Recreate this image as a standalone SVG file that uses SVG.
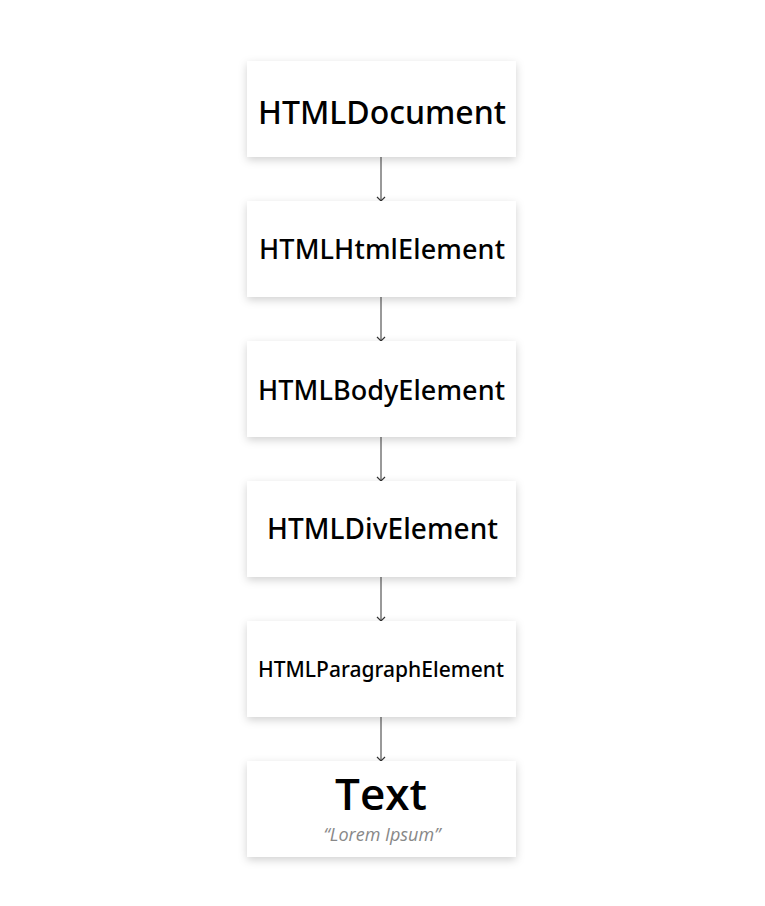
<svg xmlns="http://www.w3.org/2000/svg" width="765" height="906" viewBox="0 0 765 906">
<style>
.box{fill:#fff;filter:url(#sh)}
.t{font-family:"Noto Sans","Open Sans",sans-serif;font-weight:500;fill:#000;text-anchor:middle}
.b{font-family:"Open Sans","Noto Sans",sans-serif;font-weight:600}
.c{stroke:#555;stroke-width:1.2;fill:none}
.h{fill:none;stroke:#333;stroke-width:1.2}
.q{font-family:"Open Sans","Noto Sans",sans-serif;font-style:italic;fill:#888;text-anchor:middle;font-size:18px}
</style>
<defs>
<filter id="sh" x="-10%" y="-20%" width="120%" height="150%">
<feDropShadow dx="0" dy="3" stdDeviation="4" flood-color="#000" flood-opacity="0.18"/>
</filter>
</defs>
<rect width="765" height="906" fill="#fff"/>
<g id="connectors">
<line class="c" x1="381" y1="157" x2="381" y2="201"/>
<path class="h" d="M377,197 L381,201 L385,197"/>
<line class="c" x1="381" y1="297" x2="381" y2="341"/>
<path class="h" d="M377,337 L381,341 L385,337"/>
<line class="c" x1="381" y1="437" x2="381" y2="481"/>
<path class="h" d="M377,477 L381,481 L385,477"/>
<line class="c" x1="381" y1="577" x2="381" y2="621"/>
<path class="h" d="M377,617 L381,621 L385,617"/>
<line class="c" x1="381" y1="717" x2="381" y2="761"/>
<path class="h" d="M377,757 L381,761 L385,757"/>
</g>
<g id="n1"><rect class="box" x="247" y="61" width="269" height="96"/><text class="t" x="382" y="124" font-size="32" textLength="248">HTMLDocument</text></g>
<g id="n2"><rect class="box" x="247" y="201" width="269" height="96"/><text class="t" x="382" y="259" font-size="27" textLength="246">HTMLHtmlElement</text></g>
<g id="n3"><rect class="box" x="247" y="341" width="269" height="96"/><text class="t" x="381.5" y="399.5" font-size="27" textLength="247">HTMLBodyElement</text></g>
<g id="n4"><rect class="box" x="247" y="481" width="269" height="96"/><text class="t" x="382.5" y="539" font-size="28" textLength="231">HTMLDivElement</text></g>
<g id="n5"><rect class="box" x="247" y="621" width="269" height="96"/><text class="t" x="381" y="676.5" font-size="21" textLength="246">HTMLParagraphElement</text></g>
<g id="n6"><rect class="box" x="247" y="761" width="269" height="96"/><text class="t b" x="381" y="810" font-size="44">Text</text><text class="q" x="382" y="841">“Lorem Ipsum”</text></g>
</svg>
